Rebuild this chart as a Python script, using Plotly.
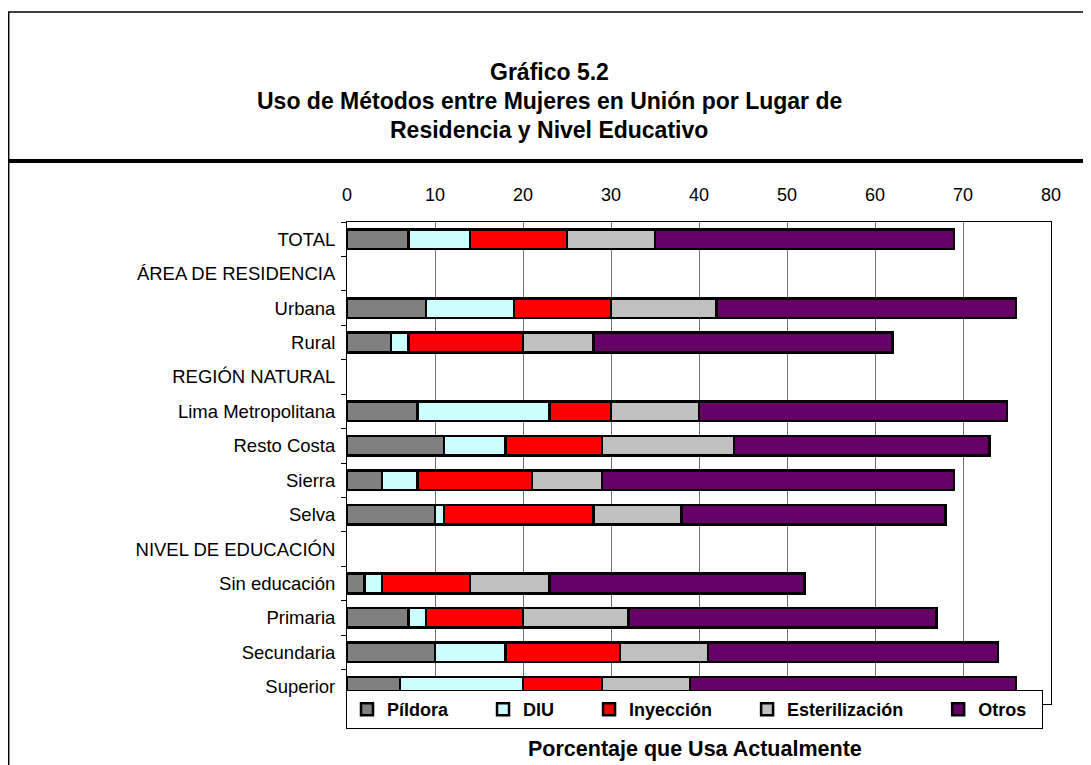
import plotly.graph_objects as go

categories = ["TOTAL", "ÁREA DE RESIDENCIA", "Urbana", "Rural", "REGIÓN NATURAL",
              "Lima Metropolitana", "Resto Costa", "Sierra", "Selva",
              "NIVEL DE EDUCACIÓN", "Sin educación", "Primaria", "Secundaria", "Superior"]

pildora = [7, None, 9, 5, None, 8, 11, 4, 10, None, 2, 7, 10, 6]
diu = [7, None, 10, 2, None, 15, 7, 4, 1, None, 2, 2, 8, 14]
inyeccion = [11, None, 11, 13, None, 7, 11, 13, 17, None, 10, 11, 13, 9]
esterilizacion = [10, None, 12, 8, None, 10, 15, 8, 10, None, 9, 12, 10, 10]
otros = [34, None, 34, 34, None, 35, 29, 40, 30, None, 29, 35, 33, 37]

series_names = ["Píldora", "DIU", "Inyección", "Esterilización", "Otros"]
series_values = [pildora, diu, inyeccion, esterilizacion, otros]
series_colors = ["#808080", "#CCFFFF", "#FF0000", "#C0C0C0", "#660066"]

x_ticks = [0, 10, 20, 30, 40, 50, 60, 70, 80]

title_lines = ["Gráfico 5.2",
               "Uso de Métodos entre Mujeres en Unión por Lugar de",
               "Residencia y Nivel Educativo"]
axis_title = "Porcentaje que Usa Actualmente"

W, H = 1091, 765
OFF = 8  # page margin of the html body
L, R, T, B = 347, 1051, 222, 704  # plot area in screenshot pixels
FONT = "Arial, Liberation Sans, sans-serif"
NB = "\u00a0"


def px_x(p):
    return (p - L) / (R - L)


def px_y(p):
    return (B - p) / (B - T)


fig = go.Figure()
for name, vals, col in zip(series_names, series_values, series_colors):
    pad = NB * (6 if name != "Otros" else 2)
    fig.add_trace(go.Bar(
        y=categories, x=vals, name=name + pad,
        orientation="h",
        marker=dict(color=col, line=dict(color="black", width=2.5)),
    ))

fig.update_layout(
    width=W, height=H,
    margin=dict(l=L - OFF, r=W - (R - OFF), t=T - OFF, b=H - (B - OFF), autoexpand=False),
    barmode="stack", bargap=0.43,
    paper_bgcolor="white", plot_bgcolor="white",
    font=dict(family=FONT, size=18, color="black"),
    showlegend=True,
    legend=dict(
        orientation="h", x=px_x(346), y=px_y(729), xanchor="left", yanchor="bottom",
        bgcolor="white", bordercolor="black", borderwidth=1,
        font=dict(family=FONT, size=18, color="black", weight="bold"),
        traceorder="normal", itemclick=False,
    ),
    xaxis=dict(
        range=[0, 80], tickvals=x_ticks, side="top",
        showgrid=True, gridcolor="#707070", gridwidth=1,
        showline=True, linecolor="black", linewidth=1, mirror=True,
        zeroline=False, ticks="", ticklabelstandoff=13,
        tickfont=dict(size=18, color="black"),
    ),
    yaxis=dict(
        categoryorder="array", categoryarray=categories, autorange="reversed",
        showline=True, linecolor="black", linewidth=1, mirror=True,
        ticks="outside", tickson="boundaries", ticklen=5, tickcolor="black",
        showgrid=False, zeroline=False, ticklabelstandoff=7,
        tickfont=dict(size=18.5, color="black"),
    ),
)

shapes = [
    dict(type="rect", xref="paper", yref="paper",
         x0=px_x(8.7), x1=px_x(1110), y0=px_y(790), y1=px_y(12),
         line=dict(color="black", width=1.5), fillcolor="rgba(0,0,0,0)", layer="below"),
    dict(type="line", xref="paper", yref="paper",
         x0=px_x(8), x1=px_x(1110), y0=px_y(161), y1=px_y(161),
         line=dict(color="black", width=4)),
]
fig.update_layout(shapes=shapes)

title_y = [72, 101, 130]
for txt, yy in zip(title_lines, title_y):
    fig.add_annotation(text="<b>" + txt + "</b>", xref="paper", yref="paper",
                       x=px_x(549), y=px_y(yy), showarrow=False,
                       xanchor="center", yanchor="middle",
                       font=dict(family=FONT, size=23, color="black"))

fig.add_annotation(text="<b>" + axis_title + "</b>", xref="paper", yref="paper",
                   x=px_x(695), y=px_y(749), showarrow=False,
                   xanchor="center", yanchor="middle",
                   font=dict(family=FONT, size=21.5, color="black"))

fig.write_html("out.html")
